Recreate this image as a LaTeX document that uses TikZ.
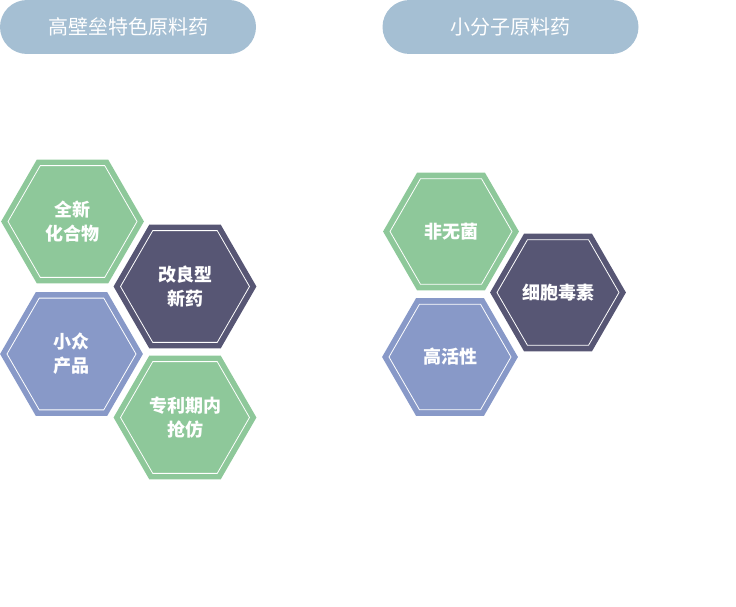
\documentclass[tikz,border=0pt]{standalone}
\usepackage{fontspec}
\setmainfont{Noto Sans CJK SC}
\usetikzlibrary{shapes.geometric, positioning}
\definecolor{HexGreen}{HTML}{8EC89A}
\definecolor{HexDark}{HTML}{575674}
\definecolor{HexBlue}{HTML}{8899C8}
\definecolor{PillBlue}{HTML}{A5BFD3}

\begin{document}
\begin{tikzpicture}[
        x=1pt, y=-1pt,
        pill/.style={rectangle, fill=PillBlue, rounded corners=27pt, minimum width=256pt, minimum height=54pt, inner sep=0pt, font=\fontsize{20}{23}\selectfont, text=white},
        hexbig/.style={regular polygon, regular polygon sides=6, minimum size=129pt, inner sep=0pt, draw=white, line width=0.8pt, fill=#1, preaction={draw=#1, line width=12pt}, align=center, text=white, font=\fontsize{18}{24}\selectfont\bfseries},
        hexsmall/.style={hexbig=#1, minimum size=122pt}
      ]
        \useasboundingbox (0,0) rectangle (736,607);

        % titles
        \node[pill] (barrier) at (128,27) {高壁垒特色原料药};
        \node[pill] (small) at (510.5,27) {小分子原料药};

        % left group
        \node[hexbig=HexGreen] (newcomp) at (72.5,221.5) {全新\\化合物};
        \node[hexbig=HexDark] (improved) at (185,286.5) {改良型\\新药};
        \node[hexbig=HexBlue] (niche) at (71.5,354) {小众\\产品};
        \node[hexbig=HexGreen] (generic) at (185,417.5) {专利期内\\抢仿};

        % right group
        \node[hexsmall=HexGreen] (nonsterile) at (451,231.5) {非无菌};
        \node[hexsmall=HexDark] (cytotoxic) at (558,292.5) {细胞毒素};
        \node[hexsmall=HexBlue] (potent) at (450,357) {高活性};
      \end{tikzpicture}
\end{document}
